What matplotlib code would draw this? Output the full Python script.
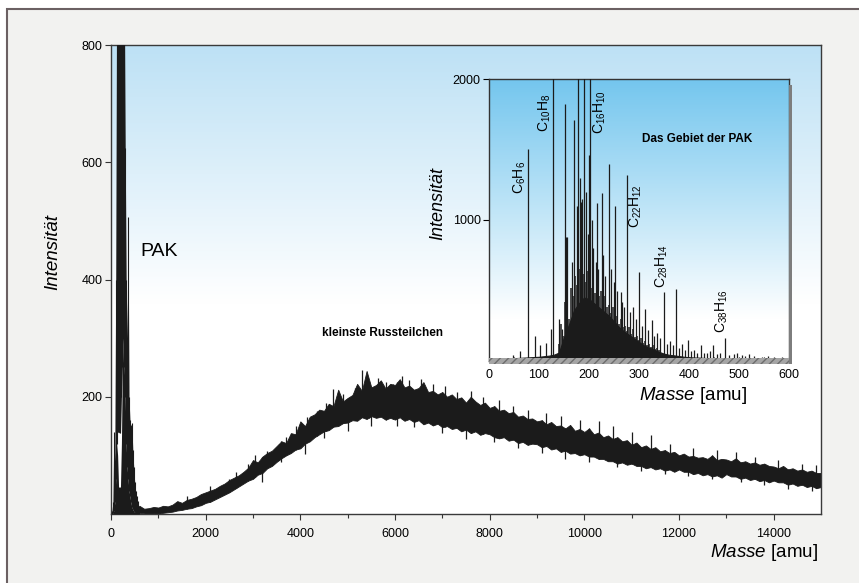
import numpy as np
import matplotlib.pyplot as plt
from matplotlib.patches import Rectangle
from matplotlib.colors import to_rgb

plt.rc('font', family='Liberation Sans')
plt.rc('mathtext', fontset='custom', rm='Liberation Sans', it='Liberation Sans:italic',
       bf='Liberation Sans:bold', default='regular')

# ---- main spectrum: upper / lower edge of the noisy band, every 100 amu (0..15000)
band_hi = [0, 0, 0, 0, 0, 0, 14, 9, 10, 12,
           11, 14, 13, 16, 22, 19, 24, 26, 29, 34,
           37, 40, 43, 48, 52, 58, 62, 66, 72, 79,
           92, 88, 98, 104, 108, 116, 124, 121, 138, 136,
           158, 150, 166, 170, 178, 176, 188, 184, 212, 192,
           198, 203, 222, 210, 244, 216, 220, 228, 214, 222,
           220, 230, 216, 219, 212, 215, 225, 208, 210, 204,
           208, 200, 204, 196, 199, 190, 200, 192, 186, 190,
           181, 184, 176, 178, 172, 174, 166, 168, 162, 163,
           158, 160, 153, 157, 150, 151, 146, 152, 142, 145,
           140, 146, 136, 139, 131, 134, 128, 131, 124, 126,
           118, 122, 114, 117, 111, 114, 107, 109, 104, 106,
           100, 103, 98, 99, 96, 97, 94, 100, 92, 94,
           93, 90, 95, 88, 90, 86, 88, 84, 86, 82,
           81, 78, 82, 76, 78, 74, 76, 72, 74, 70,
           70]
band_lo = [0, 0, 0, 0, 0, 0, 2, 1, 0, 1,
           0, 2, 3, 4, 6, 7, 9, 10, 13, 15,
           19, 21, 25, 29, 33, 37, 42, 47, 52, 57,
           60, 67, 70, 78, 82, 89, 95, 100, 104, 110,
           112, 120, 124, 131, 136, 141, 143, 149, 150, 155,
           156, 160, 159, 165, 162, 167, 164, 166, 161, 164,
           161, 165, 159, 162, 157, 160, 153, 156, 151, 154,
           148, 150, 145, 147, 141, 144, 138, 141, 135, 138,
           136, 131, 129, 131, 125, 127, 121, 123, 118, 120,
           119, 114, 116, 110, 112, 106, 108, 103, 104, 100,
           102, 98, 98, 94, 94, 90, 90, 86, 88, 84,
           86, 82, 82, 78, 80, 76, 78, 74, 76, 72,
           76, 72, 72, 68, 70, 66, 68, 64, 66, 62,
           68, 64, 64, 60, 62, 58, 60, 56, 58, 54,
           57, 54, 54, 50, 52, 48, 50, 46, 48, 44,
           46]

# single noise spikes above and below the band (mass, intensity)
spike_up_mass = [1600, 2100, 2500, 2650, 2900, 3050, 3300, 3550, 3700, 3900, 4150, 4350,
                 4550, 4700, 4900, 5150, 5300, 5450, 5650, 5800, 5950, 6150, 6300, 6550,
                 6800, 7050, 7300, 7600, 7850, 8200, 8500, 8800, 9200, 9500, 9900, 10300,
                 10600, 11000, 11400, 11800, 12300, 12800, 13200, 13600, 14100, 14600, 14900]
spike_up_int = [30, 48, 60, 72, 85, 100, 108, 120, 132, 150, 165, 176,
                190, 214, 205, 215, 246, 225, 232, 226, 222, 235, 228, 230,
                222, 218, 208, 210, 200, 195, 185, 178, 172, 168, 160, 158,
                150, 140, 134, 120, 112, 110, 105, 98, 92, 86, 84]
spike_dn_mass = [3200, 3600, 4100, 4500, 5000, 5500, 6050, 6400, 7000, 7500, 8100, 8600,
                 9100, 9600, 10100, 10700, 11200, 11700, 12200, 12700, 13300, 13800, 14300, 14800]
spike_dn_int = [55, 88, 102, 130, 142, 150, 150, 148, 138, 128, 122, 112,
                104, 94, 88, 80, 74, 68, 64, 60, 54, 50, 42, 40]

# PAK region of the main spectrum, every 20 amu (0..600)
pak_hi = [0, 5, 20, 140, 90, 400, 900, 900, 900, 900, 900, 900, 900, 900, 900, 625,
          400, 300, 507, 200, 160, 150, 155, 110, 80, 55, 40, 30, 22, 15, 12]
pak_lo = [0, 0, 2, 5, 20, 60, 120, 140, 140, 138, 140, 200, 250, 300, 250, 200,
          120, 80, 60, 40, 30, 20, 12, 8, 5, 3, 2, 2, 1, 1, 1]
pak_base = [0, 0, 2, 5, 20, 60, 120, 100, 46, 46, 46, 120, 250, 300, 250, 200,
            120, 80, 60, 40, 30, 20, 12, 8, 5, 3, 2, 2, 1, 1, 1]

# ---- inset: broad hump every 10 amu (0..600)
hump = [0, 5, 10, 15, 18, 20, 22, 24, 26, 28,
        30, 34, 38, 45, 60, 170, 260, 360, 410, 450,
        440, 410, 380, 350, 320, 280, 240, 210, 185, 160,
        135, 110, 95, 80, 65, 52, 44, 40, 35, 30,
        27, 25, 24, 22, 20, 20, 18, 18, 16, 16,
        15, 15, 14, 14, 13, 13, 12, 12, 11, 11, 10]
# dense small peaks on top of the hump, every 4 amu (140..340)
grass = [120, 260, 180, 420, 380, 300, 520, 460, 600, 540, 650, 580, 620,
         560, 640, 580, 520, 600, 480, 540, 460, 500, 420, 460, 380, 400,
         340, 380, 300, 320, 260, 300, 240, 250, 210, 240, 190, 230, 170,
         180, 150, 160, 130, 140, 110, 120, 100, 110, 85, 95, 75]
# single peaks (mass, intensity)
peak_mass = [48, 62, 78, 92, 102, 113, 124, 128, 140, 145, 152, 155, 170, 178, 183, 189,
             200, 202, 215, 226, 239, 252, 263, 276, 300, 312, 326, 336, 350, 361,
             374, 385, 397, 409, 423, 435, 448, 472, 495, 520,
             153, 165, 176, 181, 186, 194, 198, 205, 208, 213, 218, 228, 232, 244,
             250, 256, 265, 270, 282, 288, 294, 305, 318, 330, 342, 355, 368, 380,
             392, 404, 416, 430, 442, 455, 462, 480, 490, 505, 512, 530, 545, 558, 570, 585]
peak_int = [40, 70, 1500, 180, 110, 130, 230, 2100, 300, 230, 1820, 880, 1710, 2100, 1130, 2100,
            1460, 2100, 1120, 1190, 1400, 1100, 490, 1320, 630, 370, 290, 200, 490, 140,
            510, 120, 150, 80, 110, 60, 110, 160, 60, 48,
            880, 700, 1100, 1300, 1150, 1200, 900, 1000, 800, 700, 650, 750, 600, 650,
            560, 500, 420, 380, 350, 380, 300, 250, 220, 180, 160, 120, 110, 90,
            80, 70, 60, 60, 70, 50, 55, 45, 50, 40, 35, 35, 30, 35, 30, 25]

formulas = ['C$_{6}$H$_{6}$', 'C$_{10}$H$_{8}$', 'C$_{16}$H$_{10}$',
            'C$_{22}$H$_{12}$', 'C$_{28}$H$_{14}$', 'C$_{38}$H$_{16}$']
formula_mass = [62, 112, 222, 294, 346, 466]
formula_int = [1300, 1760, 1765, 1100, 676, 356]

ink = '#1b1b1b'


def gradient(ax, top, white_below):
    t = np.linspace(0, 1, 256)
    w = np.clip((t - white_below) / (1 - white_below), 0, 1)[:, None]
    img = np.ones(3) * (1 - w) + np.array(to_rgb(top)) * w
    ax.imshow(img[::-1][:, None, :], extent=[0, 1, 0, 1], transform=ax.transAxes,
              aspect='auto', zorder=0, interpolation='bilinear')


fig = plt.figure(figsize=(8.59, 5.83), dpi=100)
fig.patch.set_facecolor('white')
fig.patches.append(Rectangle((7 / 859, -0.1), 1.2, 1.1 - 9 / 583, transform=fig.transFigure,
                             fc='#f2f2f0', ec='#6b6062', lw=1.5, zorder=-10))

# main axes
ax = fig.add_axes([111 / 859, 1 - 514 / 583, 710 / 859, 469 / 583])
gradient(ax, '#bde1f5', 0.45)

mass = np.arange(0, 15001, 100)
ax.fill_between(mass, band_lo, band_hi, color=ink, lw=0.6, ec=ink, zorder=2)
ax.vlines(spike_up_mass, np.interp(spike_up_mass, mass, band_lo), spike_up_int,
          color=ink, lw=0.9, zorder=2)
ax.vlines(spike_dn_mass, spike_dn_int, np.interp(spike_dn_mass, mass, band_hi),
          color=ink, lw=0.9, zorder=2)

pak_mass = np.arange(0, 601, 20)
ax.fill_between(pak_mass, 0, pak_base, color=ink, lw=0, zorder=3)
ax.fill_between(pak_mass, pak_lo, pak_hi, color=ink, lw=0, zorder=3)
ax.vlines(pak_mass, pak_lo, pak_hi, color=ink, lw=0.8, zorder=3)

ax.set_xlim(0, 15000)
ax.set_ylim(0, 800)
ax.set_xticks(range(0, 14001, 2000))
ax.set_xticks(range(1000, 15000, 2000), minor=True)
ax.set_yticks([200, 400, 600, 800])
ax.tick_params(labelsize=9, length=4, width=0.8, color='#333333', pad=6)
ax.tick_params(axis='y', pad=2)
ax.tick_params(which='minor', length=3, width=0.8, color='#333333')
for s in ax.spines.values():
    s.set_color('#3a3a3a')
    s.set_linewidth(1.0)

ax.text(-0.082, 0.559, 'Intensität', transform=ax.transAxes, rotation=90,
        ha='center', va='center', fontsize=13.5, fontstyle='italic')
ax.text(0.996, -0.083, r'$\mathit{Masse}$ [amu]', transform=ax.transAxes,
        ha='right', va='center', fontsize=13.5)
ax.text(0.041, 0.559, 'PAK', transform=ax.transAxes, ha='left', va='center', fontsize=14)
ax.text(0.297, 0.386, 'kleinste Russteilchen', transform=ax.transAxes,
        ha='left', va='center', fontsize=8.5, fontweight='bold')

# inset
ax2 = fig.add_axes([489 / 859, 1 - 361 / 583, 300 / 859, 282 / 583])
gradient(ax2, '#74c6ee', 0.15)
hm = np.arange(0, 601, 10)
ax2.fill_between(hm, 0, hump, color=ink, lw=0.8, ec=ink, zorder=2)
gm = np.arange(140, 341, 4)
ax2.vlines(gm, 0, grass, color=ink, lw=1.1, zorder=2)
ax2.vlines(peak_mass, 0, peak_int, color=ink, lw=0.9, zorder=3)

for f, m, v in zip(formulas, formula_mass, formula_int):
    ax2.text(m, v, f, rotation=90, ha='center', va='center', fontsize=10)

ax2.set_xlim(0, 600)
ax2.set_ylim(0, 2000)
ax2.set_xticks(range(0, 601, 100))
ax2.set_xticks(range(50, 600, 100), minor=True)
ax2.set_yticks([1000, 2000])
ax2.tick_params(axis='x', which='both', direction='in', length=3, width=0.8, pad=6, labelsize=9)
ax2.tick_params(axis='y', length=4, width=0.8, pad=2, labelsize=9)
for s in ax2.spines.values():
    s.set_color('#333333')
    s.set_linewidth(1.0)
ax2.add_patch(Rectangle((0, -0.012), 1.0, 0.022, transform=ax2.transAxes, fc='#a5a5a5',
                        ec='#6d6d6d', hatch='////', lw=0, clip_on=False, zorder=4))
ax2.add_patch(Rectangle((1.0, -0.012), 0.011, 0.99, transform=ax2.transAxes, fc='#7d7d7d',
                        lw=0, clip_on=False, zorder=4))

ax2.text(0.693, 0.787, 'Das Gebiet der PAK', transform=ax2.transAxes,
         ha='center', va='center', fontsize=8.5, fontweight='bold')
ax2.text(-0.17, 0.56, 'Intensität', transform=ax2.transAxes, rotation=90,
         ha='center', va='center', fontsize=13, fontstyle='italic')
ax2.text(0.68, -0.121, r'$\mathit{Masse}$ [amu]', transform=ax2.transAxes,
         ha='center', va='center', fontsize=13.5)

plt.savefig('out.png', dpi=100)
